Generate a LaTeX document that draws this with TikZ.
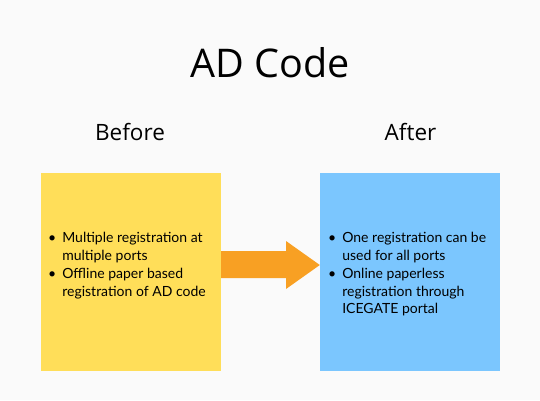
\documentclass[tikz,border=0pt]{standalone}
\usepackage{fontspec}
\setmainfont{Open Sans}
\newfontfamily\bodyfont{Lato}
\definecolor{bg}{HTML}{FAFAFA}
\definecolor{ybox}{HTML}{FFDE59}
\definecolor{bbox}{HTML}{7BC6FE}
\definecolor{arr}{HTML}{F8A023}
\tikzset{
  panel/.style={minimum width=180pt, minimum height=198pt, inner sep=0pt, draw=none},
  heading/.style={font=\fontsize{22.5}{26}\selectfont, inner sep=0pt},
  bullets/.style={font=\bodyfont\fontsize{14}{17.8}\selectfont, anchor=north west, inner sep=0pt, align=left},
}
\begin{document}
\begin{tikzpicture}[x=1pt,y=-1pt]
\fill[bg] (0,0) rectangle (540,400);
\useasboundingbox (0,0) rectangle (540,400);
\node[font=\fontsize{39.5}{44}\selectfont, inner sep=0pt] (title) at (270,63) {AD Code};
\node[heading] (before) at (130,132) {Before};
\node[heading] (after) at (410.5,132) {After};
\node[panel, fill=ybox] (left) at (131,272) {};
\node[panel, fill=bbox] (right) at (410,272) {};
\fill[arr] (left.east |- 0,251) -- (286,251) -- (286,241) -- (right.west |- 0,265) -- (286,289) -- (286,278) -- (left.east |- 0,278) -- cycle;
\node[bullets] (ltext) at (48,230) {%
\begin{tabular}{@{}l@{\hspace{6pt}}l@{}}
\textbullet & Multiple registration at\\
 & multiple ports\\
\textbullet & Offline paper based\\
 & registration of AD code
\end{tabular}};
\node[bullets] (rtext) at (328,230) {%
\begin{tabular}{@{}l@{\hspace{6pt}}l@{}}
\textbullet & One registration can be\\
 & used for all ports\\
\textbullet & Online paperless\\
 & registration through\\
 & ICEGATE portal
\end{tabular}};
\end{tikzpicture}
\end{document}
